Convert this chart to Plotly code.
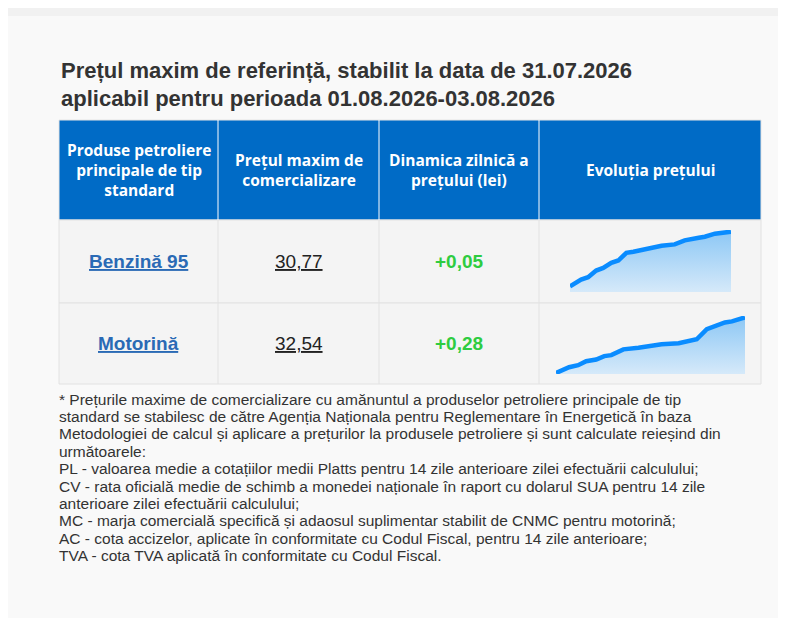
import plotly.graph_objects as go

title_lines = ["Prețul maxim de referință, stabilit la data de 31.07.2026",
               "aplicabil pentru perioada 01.08.2026-03.08.2026"]
headers = ["Produse petroliere<br>principale de tip<br>standard",
           "Prețul maxim de<br>comercializare",
           "Dinamica zilnică a<br>prețului (lei)",
           "Evoluția prețului"]
products = ["Benzină 95", "Motorină"]
prices = ["30,77", "32,54"]
dynamics = ["+0,05", "+0,28"]

# sparkline readings (relative units)
spark1_x = [0, 11, 18, 26, 33, 41, 48, 56, 63, 78, 91, 104, 114, 128, 134, 144, 160]
spark1_y = [17, 37, 44, 64, 72, 87, 94, 117, 120, 130, 138, 142, 154, 162, 165, 174, 180]
spark2_x = [0, 13, 22, 30, 40, 48, 55, 67, 82, 105, 122, 132, 140, 150, 155, 168, 175, 188]
spark2_y = [3, 20, 26, 38, 43, 53, 56, 73, 78, 88, 91, 98, 103, 133, 138, 153, 156, 168]

footnote = [
    "* Prețurile maxime de comercializare cu amănuntul a produselor petroliere principale de tip",
    "standard se stabilesc de către Agenția Naționala pentru Reglementare în Energetică în baza",
    "Metodologiei de calcul și aplicare a prețurilor la produsele petroliere și sunt calculate reieșind din",
    "următoarele:",
    "PL - valoarea medie a cotațiilor medii Platts pentru 14 zile anterioare zilei efectuării calculului;",
    "CV - rata oficială medie de schimb a monedei naționale în raport cu dolarul SUA pentru 14 zile",
    "anterioare zilei efectuării calculului;",
    "MC - marja comercială specifică și adaosul suplimentar stabilit de CNMC pentru motorină;",
    "AC - cota accizelor, aplicate în conformitate cu Codul Fiscal, pentru 14 zile anterioare;",
    "TVA - cota TVA aplicată în conformitate cu Codul Fiscal.",
]

W, H = 786, 618
col_x = [51, 210, 371, 531, 753]
row_y = [112, 212, 295, 376]

fig = go.Figure()
shapes = [
    dict(type="rect", x0=0, x1=W, y0=0, y1=8, fillcolor="#f1f1f1", line_width=0, layer="below"),
    dict(type="rect", x0=col_x[0], x1=col_x[-1], y0=row_y[0], y1=row_y[1],
         fillcolor="#006bc6", line=dict(color="#e4e4e4", width=1), layer="below"),
]
for r in range(1, 3):
    shapes.append(dict(type="rect", x0=col_x[0], x1=col_x[-1], y0=row_y[r], y1=row_y[r + 1],
                       fillcolor="#f4f4f4", line=dict(color="#e2e2e2", width=1), layer="below"))
for c in col_x[1:-1]:
    shapes.append(dict(type="line", x0=c, x1=c, y0=row_y[0], y1=row_y[1], line=dict(color="#ffffff", width=1)))
    shapes.append(dict(type="line", x0=c, x1=c, y0=row_y[1], y1=row_y[3], line=dict(color="#e2e2e2", width=1)))

ann = []
for i, t in enumerate(title_lines):
    ann.append(dict(x=51, y=62 + i * 28, text=f"<b>{t}</b>", xanchor="left", yanchor="middle",
                    font=dict(family="Liberation Sans, Arial", size=22, color="#333333")))
for i, h in enumerate(headers):
    ann.append(dict(x=(col_x[i] + col_x[i + 1]) / 2, y=(row_y[0] + row_y[1]) / 2, text=f"<b>{h}</b>",
                    xanchor="center", yanchor="middle",
                    font=dict(family="Open Sans", size=15.5, color="white")))
for r in range(2):
    yc = (row_y[r + 1] + row_y[r + 2]) / 2
    ann.append(dict(x=(col_x[0] + col_x[1]) / 2, y=yc, text=f"<b><u>{products[r]}</u></b>",
                    font=dict(family="Liberation Sans, Arial", size=19, color="#2a6ab5")))
    ann.append(dict(x=(col_x[1] + col_x[2]) / 2, y=yc, text=f"<u>{prices[r]}</u>",
                    font=dict(family="Liberation Sans, Arial", size=19, color="#222222")))
    ann.append(dict(x=(col_x[2] + col_x[3]) / 2, y=yc, text=f"<b>{dynamics[r]}</b>",
                    font=dict(family="Liberation Sans, Arial", size=19, color="#2ecc40")))
for i, line in enumerate(footnote):
    ann.append(dict(x=49, y=391 + i * 17.4, text=line, xanchor="left", yanchor="middle",
                    font=dict(family="Liberation Sans, Arial", size=15.5, color="#333333")))
for a in ann:
    a.setdefault("showarrow", False)
    a.setdefault("xref", "x")
    a.setdefault("yref", "y")

fig.add_trace(go.Scatter(x=[0], y=[0], mode="markers", marker=dict(opacity=0), hoverinfo="skip", showlegend=False))

grad = dict(type="vertical", colorscale=[[0, "rgba(210,232,250,0.9)"], [1, "rgba(130,195,245,0.9)"]])
for k, (sx, sy) in enumerate([(spark1_x, spark1_y), (spark2_x, spark2_y)]):
    fig.add_trace(go.Scatter(x=sx, y=sy, mode="lines", fill="tozeroy", fillgradient=grad,
                             line=dict(color="#0a8cff", width=4.5), xaxis=f"x{k + 2}", yaxis=f"y{k + 2}",
                             hoverinfo="skip", showlegend=False))

hide = dict(visible=False, fixedrange=True)
fig.update_layout(
    width=W, height=H, margin=dict(l=0, r=0, t=0, b=0),
    paper_bgcolor="#f9f9f9", plot_bgcolor="rgba(0,0,0,0)",
    xaxis=dict(range=[0, W], domain=[0, 1], **hide),
    yaxis=dict(range=[H, 0], domain=[0, 1], **hide),
    xaxis2=dict(range=[0, 160], domain=[562 / W, 723 / W], anchor="y2", **hide),
    yaxis2=dict(range=[0, 185], domain=[1 - 284 / H, 1 - 222 / H], anchor="x2", **hide),
    xaxis3=dict(range=[0, 188], domain=[548 / W, 737 / W], anchor="y3", **hide),
    yaxis3=dict(range=[0, 172], domain=[1 - 366 / H, 1 - 308 / H], anchor="x3", **hide),
    shapes=shapes, annotations=ann,
)
fig.write_html("out.html")
